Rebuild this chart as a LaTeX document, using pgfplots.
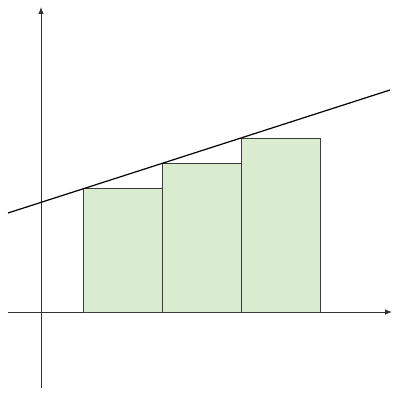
\documentclass[border=0pt]{standalone}
\usepackage{pgfplots}
\pgfplotsset{compat=1.18}
\usetikzlibrary{arrows.meta}
\definecolor{barfill}{RGB}{217,236,208}
\definecolor{bardraw}{RGB}{60,60,60}
\definecolor{axdraw}{RGB}{50,50,50}
\begin{document}
\begin{tikzpicture}
\begin{axis}[
  x=1pt, y=1pt,
  axis lines=middle,
  xmin=-33, xmax=351, ymin=-76, ymax=305,
  xtick=\empty, ytick=\empty,
  axis line style={axdraw, line width=0.9pt},
  x axis line style={-{Latex[length=7pt,width=5.5pt]}},
  y axis line style={-{Latex[length=7pt,width=5.5pt]}},
  clip=false,
  axis on top=false,
]
\path (axis cs:-41,-88) rectangle (axis cs:359,312);
\addplot[ybar interval, fill=barfill, draw=bardraw, line width=0.8pt] coordinates {(42,124) (121,149) (200,174) (279,174)};
\addplot[black, line width=1.2pt] coordinates {(-33,99) (349,222)};
\end{axis}
\end{tikzpicture}
\end{document}
